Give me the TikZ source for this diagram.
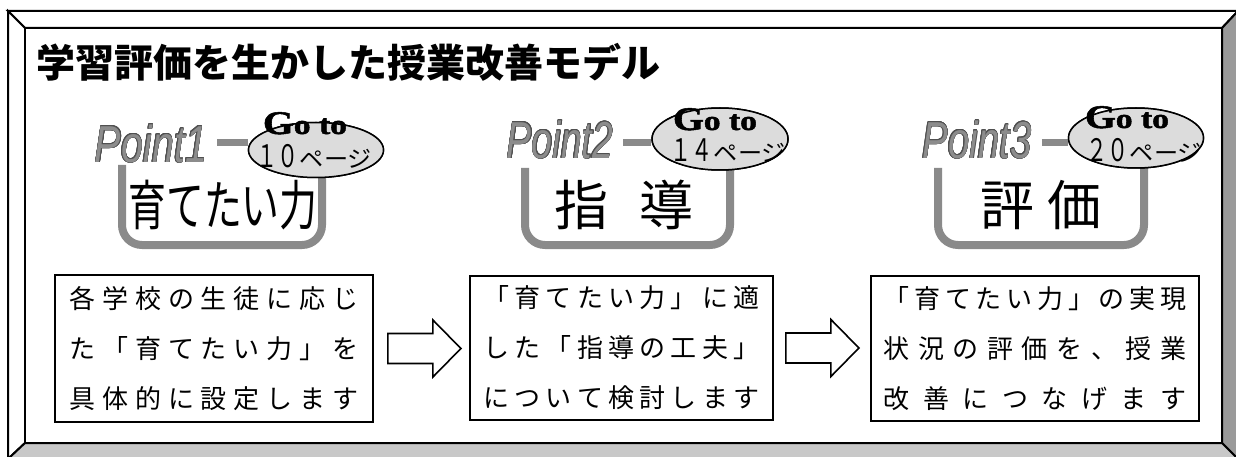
\documentclass[tikz,border=0pt]{standalone}
\usepackage{fontspec}
\usepackage{contour}
\setmainfont{Liberation Sans}
\newfontfamily\jp{Noto Sans CJK JP}
\newfontfamily\serifb{Liberation Serif}[BoldFeatures={FakeBold=1.5}]
\usetikzlibrary{shapes.geometric,calc}
\definecolor{bevelR}{HTML}{9A9A9A}
\definecolor{bevelB}{HTML}{C8C8C8}
\definecolor{ugray}{HTML}{8A8A8A}
\definecolor{ptgray}{HTML}{8C8C8C}
\definecolor{ptline}{HTML}{505050}
\definecolor{ellfill}{HTML}{DCDCDC}
\contourlength{0.7pt}
\contournumber{16}
\def\spreadrun#1{\ifx#1\relax\else\hfill#1\expandafter\spreadrun\fi}
\def\spreadfirst#1{#1\spreadrun}
\newcommand\spread[2]{\makebox[#1pt][s]{\spreadfirst#2\relax}}
\tikzset{
  framefill/.style={draw=black, line width=2pt, line join=miter},
  gline/.style={draw=ugray, line width=8pt},
  gdash/.style={draw=ugray, line width=7pt},
  pointtxt/.style={inner sep=0pt, font=\itshape\fontsize{52}{52}\selectfont},
  gonode/.style={draw=black, line width=1.5pt, fill=ellfill, ellipse, inner sep=0pt},
  gotxt/.style={anchor=base, inner sep=0pt},
  numtxt/.style={anchor=base, inner sep=0pt},
  bigtxt/.style={inner sep=0pt, font=\jp\fontsize{54}{54}\selectfont},
  descbox/.style={draw=black, line width=1.8pt, fill=white, inner sep=0pt, align=center,
    font=\jp\fontsize{26}{50}\selectfont},
  barrow/.pic={\draw[line width=1.6pt, fill=white, line join=miter]
     (0,-15) -- (45,-15) -- (45,-28.5) -- (73,0) -- (45,28.5) -- (45,15) -- (0,15) -- cycle;}
}
\newcommand\pointlabel[2]{\scalebox{#1}[1]{\contour{ptline}{\textcolor{ptgray}{#2}}}}
\newcommand\goto{\serifb\bfseries\scalebox{1.2}[1]{\fontsize{33}{33}\selectfont G\fontsize{28}{28}\selectfont o to}}
\newcommand\pagenum[1]{\jp\scalebox{0.68}[1]{\fontsize{31}{31}\selectfont #1}\,\scalebox{1.05}[1]{\fontsize{23}{23}\selectfont ページ}}
\begin{document}
\begin{tikzpicture}[x=1pt,y=-1pt]
\useasboundingbox (0,0) rectangle (1236,457);
\fill[white] (0,0) rectangle (1236,457);
% bevel frame
\path[framefill, fill=white] (8,11) -- (1238,11) -- (1222,28) -- (25,28) -- cycle;
\path[framefill, fill=white] (8,11) -- (25,28) -- (25,443) -- (8,459) -- cycle;
\path[framefill, fill=bevelR] (1238,11) -- (1238,459) -- (1222,443) -- (1222,28) -- cycle;
\path[framefill, fill=bevelB] (8,459) -- (1238,459) -- (1222,443) -- (25,443) -- cycle;
\path[framefill, fill=white] (25,28) rectangle (1222,443);

% title
\node[anchor=west, inner sep=0pt, font=\jp\bfseries\fontsize{39}{39}\selectfont] (title) at (36,62) {学習評価を生かした授業改善モデル};

% group 1
\draw[gline, rounded corners=20pt] (122,165) -- (122,245) -- (322,245) -- (322,150);
\node[pointtxt] (p1) at (151,144) {\pointlabel{0.76}{Point1}};
\node[gonode, minimum width=135pt, minimum height=55pt] (e1) at (316,150) {};
\draw[gdash] ([xshift=10pt]p1.east |- 0,143) -- (e1.west |- 0,143);
\node[gonode, minimum width=135pt, minimum height=55pt] at (e1) {};
\node[gotxt] (g1) at (305,134) {\goto};
\node[numtxt] (n1) at (314,168) {\pagenum{１０}};
\node[bigtxt] (t1) at (223,205) {\scalebox{0.7}[1]{育てたい力}};

% group 2
\draw[gline, rounded corners=20pt] (525,168) -- (525,245) -- (730,245) -- (730,140);
\node[pointtxt] (p2) at (560,140) {\pointlabel{0.72}{Point2}};
\node[gonode, minimum width=136pt, minimum height=62pt] (e2) at (720,139) {};
\draw[gdash] ([xshift=10pt]p2.east |- 0,143) -- (e2.west |- 0,143);
\node[gonode, minimum width=136pt, minimum height=62pt] at (e2) {};
\node[gotxt] (g2) at (715,130) {\goto};
\node[numtxt] (n2) at (728,162) {\pagenum{１４}};
\node[bigtxt] (t2) at (624,205) {指\hspace{31pt}導};

% group 3
\draw[gline, rounded corners=20pt] (938,168) -- (938,245) -- (1144,245) -- (1144,140);
\node[pointtxt] (p3) at (977,140) {\pointlabel{0.74}{Point3}};
\node[gonode, minimum width=135pt, minimum height=60pt] (e3) at (1136,138) {};
\draw[gdash] ([xshift=10pt]p3.east |- 0,143) -- (e3.west |- 0,143);
\node[gonode, minimum width=135pt, minimum height=60pt] at (e3) {};
\node[gotxt] (g3) at (1127,128) {\goto};
\node[numtxt] (n3) at (1144,162) {\pagenum{２０}};
\node[bigtxt] (t3) at (1041,205) {評 価};

% description boxes
\node[descbox, minimum width=318pt, minimum height=147pt] (b1) at (214,348.5)
  {\spread{289}{各学校の生徒に応じ}\\\spread{289}{た「育てたい力」を}\\\spread{289}{具体的に設定します}};
\node[descbox, minimum width=303pt, minimum height=144pt] (b2) at (621.5,348)
  {\spread{276}{「育てたい力」に適}\\\spread{276}{した「指導の工夫」}\\\spread{276}{について検討します}};
\node[descbox, minimum width=328pt, minimum height=145pt] (b3) at (1035,348.5)
  {\spread{303}{「育てたい力」の実現}\\\spread{303}{状況の評価を、授業}\\\spread{303}{改善につなげます}};

% block arrows between boxes
\pic at ([xshift=14pt]b1.east) {barrow};
\pic at ([xshift=12pt]b2.east) {barrow};
\end{tikzpicture}
\end{document}
